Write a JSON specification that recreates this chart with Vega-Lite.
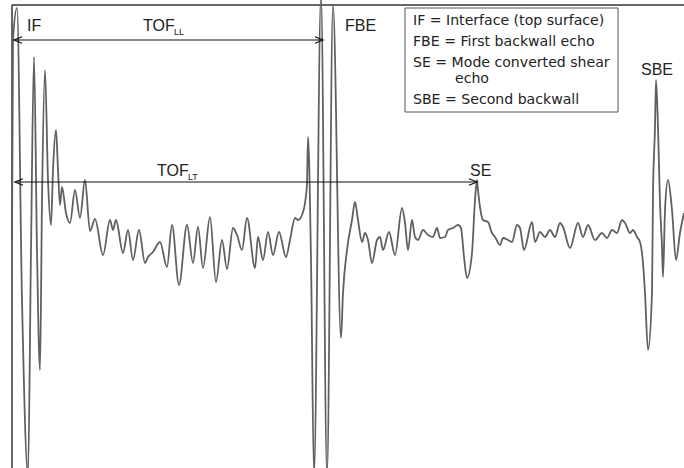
{
  "$schema": "https://vega.github.io/schema/vega-lite/v6.json",
  "width": 684,
  "height": 468,
  "autosize": {"type": "none"},
  "padding": 0,
  "background": "white",
  "config": {"view": {"stroke": null}, "text": {"font": "Liberation Sans"}},
  "datasets": {
    "wave": [
      {"t":12,"a":228},{"t":13,"a":428},{"t":17,"a":460},{"t":22,"a":168},{"t":28,"a":-7},{"t":31,"a":218},{"t":34,"a":411},{"t":37,"a":218},{"t":40,"a":98},{"t":42,"a":268},{"t":45,"a":398},{"t":48,"a":288},{"t":51,"a":243},{"t":53,"a":298},{"t":56,"a":338},{"t":58,"a":298},{"t":60,"a":263},{"t":62,"a":281},{"t":66,"a":255},{"t":70,"a":245},{"t":75,"a":278},{"t":80,"a":250},{"t":85,"a":288},{"t":90,"a":237},{"t":95,"a":249},{"t":103,"a":213},{"t":110,"a":248},{"t":113,"a":238},{"t":116,"a":248},{"t":123,"a":215},{"t":128,"a":238},{"t":133,"a":208},{"t":139,"a":238},{"t":145,"a":205},{"t":148,"a":211},{"t":153,"a":216},{"t":160,"a":226},{"t":167,"a":201},{"t":172,"a":243},{"t":179,"a":183},{"t":187,"a":243},{"t":193,"a":205},{"t":198,"a":241},{"t":203,"a":200},{"t":210,"a":251},{"t":216,"a":186},{"t":222,"a":228},{"t":227,"a":199},{"t":233,"a":240},{"t":237,"a":233},{"t":242,"a":218},{"t":247,"a":250},{"t":255,"a":200},{"t":258,"a":231},{"t":263,"a":208},{"t":268,"a":236},{"t":273,"a":213},{"t":279,"a":236},{"t":286,"a":211},{"t":290,"a":228},{"t":295,"a":250},{"t":298,"a":248},{"t":302,"a":253},{"t":305,"a":265},{"t":307,"a":285},{"t":308,"a":331},{"t":311,"a":208},{"t":314,"a":-7},{"t":321,"a":473},{"t":327,"a":-7},{"t":333,"a":463},{"t":341,"a":130},{"t":343,"a":175},{"t":347,"a":218},{"t":352,"a":248},{"t":355,"a":266},{"t":358,"a":248},{"t":362,"a":226},{"t":365,"a":235},{"t":368,"a":228},{"t":372,"a":205},{"t":377,"a":228},{"t":380,"a":231},{"t":383,"a":218},{"t":389,"a":236},{"t":395,"a":213},{"t":402,"a":260},{"t":405,"a":245},{"t":408,"a":218},{"t":412,"a":248},{"t":415,"a":231},{"t":418,"a":228},{"t":423,"a":238},{"t":428,"a":233},{"t":433,"a":231},{"t":437,"a":240},{"t":440,"a":230},{"t":445,"a":231},{"t":448,"a":238},{"t":453,"a":240},{"t":458,"a":243},{"t":461,"a":240},{"t":464,"a":211},{"t":467,"a":190},{"t":472,"a":215},{"t":475,"a":268},{"t":477,"a":288},{"t":478,"a":278},{"t":480,"a":261},{"t":483,"a":248},{"t":488,"a":246},{"t":492,"a":235},{"t":495,"a":231},{"t":500,"a":223},{"t":503,"a":230},{"t":508,"a":228},{"t":512,"a":226},{"t":517,"a":243},{"t":520,"a":240},{"t":524,"a":218},{"t":532,"a":246},{"t":535,"a":226},{"t":540,"a":236},{"t":545,"a":231},{"t":550,"a":238},{"t":555,"a":231},{"t":560,"a":245},{"t":563,"a":241},{"t":570,"a":220},{"t":578,"a":245},{"t":583,"a":231},{"t":588,"a":243},{"t":595,"a":228},{"t":602,"a":235},{"t":607,"a":230},{"t":612,"a":238},{"t":617,"a":235},{"t":622,"a":248},{"t":625,"a":245},{"t":630,"a":235},{"t":633,"a":238},{"t":637,"a":231},{"t":640,"a":226},{"t":643,"a":205},{"t":645,"a":175},{"t":648,"a":118},{"t":652,"a":175},{"t":653,"a":275},{"t":655,"a":341},{"t":656,"a":388},{"t":658,"a":341},{"t":660,"a":265},{"t":662,"a":221},{"t":663,"a":191},{"t":665,"a":258},{"t":668,"a":288},{"t":672,"a":258},{"t":676,"a":208},{"t":680,"a":235},{"t":684,"a":255}
    ],
    "frame": [
      {"x":12,"x2":684,"y":463,"y2":463},
      {"x":12,"x2":12,"y":463,"y2":0}
    ],
    "arrows": [
      {"name":"LL","x":14,"x2":323,"y":428},
      {"name":"LT","x":15,"x2":477,"y":286}
    ],
    "heads": [
      {"x":14,"y":428,"dir":"left"},
      {"x":323,"y":428,"dir":"right"},
      {"x":15,"y":286,"dir":"left"},
      {"x":477,"y":286,"dir":"right"}
    ],
    "labels": [
      {"x":27,"y":437,"label":"IF","size":16},
      {"x":143,"y":437,"label":"TOF","size":16},
      {"x":174,"y":433,"label":"LL","size":9},
      {"x":345,"y":437,"label":"FBE","size":16},
      {"x":157,"y":292,"label":"TOF","size":16},
      {"x":188,"y":288,"label":"LT","size":9},
      {"x":470,"y":292,"label":"SE","size":16},
      {"x":641,"y":393,"label":"SBE","size":16}
    ],
    "box": [{"x":405,"x2":618,"y":460,"y2":356}],
    "legend": [
      {"x":413,"y":443,"label":"IF = Interface (top surface)"},
      {"x":413,"y":422,"label":"FBE = First backwall echo"},
      {"x":413,"y":401,"label":"SE = Mode converted shear"},
      {"x":455,"y":385,"label":"echo"},
      {"x":413,"y":364,"label":"SBE = Second backwall"}
    ]
  },
  "layer": [
    {
      "data": {"name": "box"},
      "mark": {"type": "rect", "fill": "white", "stroke": "#555", "strokeWidth": 1},
      "encoding": {
        "x": {"field": "x", "type": "quantitative", "scale": {"domain": [0, 684], "nice": false, "zero": false}, "axis": null},
        "x2": {"field": "x2"},
        "y": {"field": "y", "type": "quantitative", "scale": {"domain": [0, 468], "nice": false, "zero": false}, "axis": null},
        "y2": {"field": "y2"}
      }
    },
    {
      "data": {"name": "frame"},
      "mark": {"type": "rule", "stroke": "#333", "strokeWidth": 1.5},
      "encoding": {
        "x": {"field": "x", "type": "quantitative", "scale": {"domain": [0, 684], "nice": false, "zero": false}, "axis": null},
        "x2": {"field": "x2"},
        "y": {"field": "y", "type": "quantitative", "scale": {"domain": [0, 468], "nice": false, "zero": false}, "axis": null},
        "y2": {"field": "y2"}
      }
    },
    {
      "data": {"name": "wave"},
      "mark": {"type": "line", "stroke": "#606060", "strokeWidth": 1.8, "clip": true, "interpolate": "monotone"},
      "encoding": {
        "x": {"field": "t", "type": "quantitative", "scale": {"domain": [0, 684], "nice": false, "zero": false}, "axis": null},
        "y": {"field": "a", "type": "quantitative", "scale": {"domain": [0, 468], "nice": false, "zero": false}, "axis": null},
        "order": {"field": "t", "type": "quantitative"}
      }
    },
    {
      "data": {"name": "arrows"},
      "mark": {"type": "rule", "stroke": "#111", "strokeWidth": 1.2},
      "encoding": {
        "x": {"field": "x", "type": "quantitative", "scale": {"domain": [0, 684], "nice": false, "zero": false}, "axis": null},
        "x2": {"field": "x2"},
        "y": {"field": "y", "type": "quantitative", "scale": {"domain": [0, 468], "nice": false, "zero": false}, "axis": null}
      }
    },
    {
      "data": {"name": "heads"},
      "mark": {"type": "point", "filled": false, "stroke": "#111", "strokeWidth": 1.2, "size": 64, "opacity": 1},
      "encoding": {
        "x": {"field": "x", "type": "quantitative", "scale": {"domain": [0, 684], "nice": false, "zero": false}, "axis": null},
        "y": {"field": "y", "type": "quantitative", "scale": {"domain": [0, 468], "nice": false, "zero": false}, "axis": null},
        "shape": {"field": "dir", "type": "nominal", "legend": null,
          "scale": {"domain": ["left", "right"], "range": ["M2,-0.8L0,0L2,0.8", "M-2,-0.8L0,0L-2,0.8"]}}
      }
    },
    {
      "data": {"name": "labels"},
      "mark": {"type": "text", "align": "left", "baseline": "alphabetic", "color": "#222"},
      "encoding": {
        "x": {"field": "x", "type": "quantitative", "scale": {"domain": [0, 684], "nice": false, "zero": false}, "axis": null},
        "y": {"field": "y", "type": "quantitative", "scale": {"domain": [0, 468], "nice": false, "zero": false}, "axis": null},
        "text": {"field": "label"},
        "size": {"field": "size", "type": "quantitative", "scale": null, "legend": null}
      }
    },
    {
      "data": {"name": "legend"},
      "mark": {"type": "text", "align": "left", "baseline": "alphabetic", "color": "#222", "font": "DejaVu Sans", "fontSize": 14.1},
      "encoding": {
        "x": {"field": "x", "type": "quantitative", "scale": {"domain": [0, 684], "nice": false, "zero": false}, "axis": null},
        "y": {"field": "y", "type": "quantitative", "scale": {"domain": [0, 468], "nice": false, "zero": false}, "axis": null},
        "text": {"field": "label"}
      }
    }
  ]
}
